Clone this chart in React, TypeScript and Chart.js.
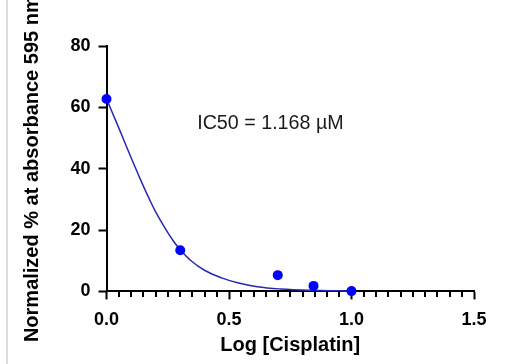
import React, { useEffect, useRef } from "react";
import { Chart, registerables } from "chart.js";

Chart.register(...registerables);

// Measured data (log dose vs normalized %)
const DOSE_LOG = [0, 0.301, 0.699, 0.845, 1.0];
const RESPONSE = [62.7, 13.4, 5.3, 1.8, 0.1];

// Fitted curve
const FIT_X = [0, 0.02, 0.05, 0.08, 0.11, 0.14, 0.17, 0.2, 0.24, 0.275, 0.3, 0.345, 0.4, 0.47, 0.535, 0.615, 0.71, 0.85, 1.0];
const FIT_Y = [62.8, 59.0, 53.3, 47.5, 41.8, 36.2, 30.9, 26.0, 20.5, 16.2, 13.7, 10.0, 6.9, 4.4, 2.8, 1.5, 0.8, 0.35, 0.1];

const X_MIN = 0;
const X_MAX = 1.5;
const X_MINOR_STEP = 0.05;
const X_MAJOR_STEP = 0.5;
const Y_MIN = 0;
const Y_MAX = 80;
const Y_STEP = 20;

const X_TITLE = "Log [Cisplatin]";
const Y_TITLE = "Normalized % at absorbance 595 nm";
const ANNOTATION = "IC50 = 1.168 µM";
const ANNOTATION_AT = { x: 0.37, y: 52.8 };

const FONT = '"Liberation Sans", Arial, Helvetica, sans-serif';

const isMajor = (v: number) => Math.abs(v / X_MAJOR_STEP - Math.round(v / X_MAJOR_STEP)) < 1e-6;

const extrasPlugin = {
  id: "extras",
  afterDraw(chart: any) {
    const { ctx, scales } = chart;
    const xs = scales.x;
    const ys = scales.y;
    ctx.save();
    // minor ticks on x axis
    ctx.strokeStyle = "#000";
    ctx.lineWidth = 2;
    const yAxis = ys.getPixelForValue(0);
    xs.ticks.forEach((t: any) => {
      if (!isMajor(t.value)) {
        const px = Math.round(xs.getPixelForValue(t.value));
        ctx.beginPath();
        ctx.moveTo(px, yAxis);
        ctx.lineTo(px, yAxis + 5.5);
        ctx.stroke();
      }
    });
    // annotation
    ctx.fillStyle = "#1a1a1a";
    ctx.font = `19.7px ${FONT}`;
    ctx.textAlign = "left";
    ctx.textBaseline = "alphabetic";
    ctx.fillText(ANNOTATION, xs.getPixelForValue(ANNOTATION_AT.x), ys.getPixelForValue(ANNOTATION_AT.y));
    ctx.restore();
  },
};

export default function App() {
  const ref = useRef<HTMLCanvasElement | null>(null);

  useEffect(() => {
    if (!ref.current) return;
    const chart = new Chart(ref.current, {
      type: "scatter",
      data: {
        datasets: [
          {
            type: "scatter",
            data: DOSE_LOG.map((x, i) => ({ x, y: RESPONSE[i] })),
            backgroundColor: "#0000ff",
            borderColor: "#0000ff",
            borderWidth: 0,
            pointRadius: 5,
            clip: false,
          } as any,
          {
            type: "line",
            data: FIT_X.map((x, i) => ({ x, y: FIT_Y[i] })),
            borderColor: "rgb(40,40,180)",
            borderWidth: 1.5,
            pointRadius: 0,
            fill: false,
            tension: 0.4,
            clip: false,
          } as any,
        ],
      },
      options: {
        responsive: false,
        animation: false,
        layout: { padding: { top: 46, right: 50, bottom: 0, left: 0 } },
        plugins: { legend: { display: false }, tooltip: { enabled: false } },
        scales: {
          x: {
            type: "linear",
            min: X_MIN,
            max: X_MAX,
            ticks: {
              stepSize: X_MINOR_STEP,
              autoSkip: false,
              maxRotation: 0,
              padding: 9.5,
              color: "#000",
              font: { family: FONT, size: 18, weight: "bold" },
              callback: (v: any) => (isMajor(Number(v)) ? Number(v).toFixed(1) : ""),
            },
            grid: {
              drawOnChartArea: false,
              drawTicks: true,
              tickLength: 8,
              tickWidth: 2,
              tickColor: (c: any) => (c.tick && isMajor(c.tick.value) ? "#000" : "rgba(0,0,0,0)"),
            },
            border: { display: true, color: "#000", width: 2 },
            title: {
              display: true,
              text: X_TITLE,
              color: "#000",
              font: { family: FONT, size: 20, weight: "bold" },
              padding: { top: -7, bottom: 7 },
            },
          },
          y: {
            type: "linear",
            min: Y_MIN,
            max: Y_MAX,
            ticks: {
              stepSize: Y_STEP,
              padding: 8,
              color: "#000",
              font: { family: FONT, size: 18, weight: "bold" },
            },
            grid: {
              drawOnChartArea: false,
              drawTicks: true,
              tickLength: 8,
              tickWidth: 2,
              tickColor: "#000",
            },
            border: { display: true, color: "#000", width: 2 },
            title: {
              display: true,
              text: Y_TITLE,
              color: "#000",
              font: { family: FONT, size: 20, weight: "bold" },
              padding: { top: 20, bottom: 18.5 },
            },
          },
        },
      },
      plugins: [extrasPlugin],
    });
    return () => chart.destroy();
  }, []);

  return (
    <div style={{ position: "fixed", left: 0, top: 0, width: 524, height: 364, background: "#fff" }}>
      <canvas ref={ref} width={524} height={364} style={{ position: "absolute", left: 0, top: 0, width: 524, height: 364 }} />
      <div style={{ position: "absolute", left: 6, top: 0, width: 2, height: 364, background: "#dcdcdc" }} />
    </div>
  );
}
